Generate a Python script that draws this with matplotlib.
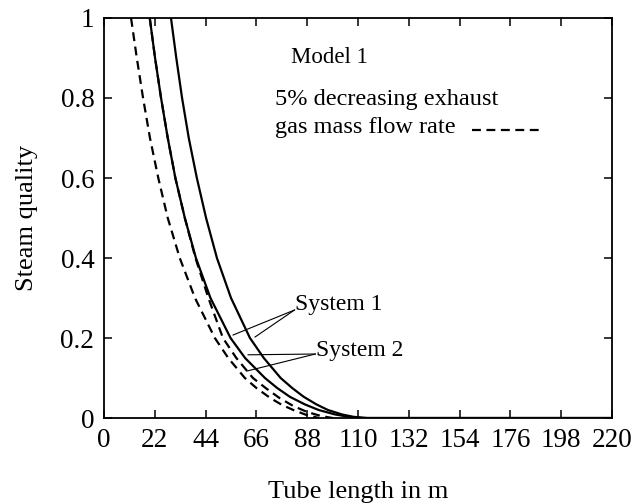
import matplotlib
matplotlib.use("Agg")
import matplotlib.pyplot as plt

plt.rcParams['font.family'] = ['Liberation Serif', 'DejaVu Serif']

# System 1 (solid, right)
s1_x = [29, 31.3, 33.8, 36.7, 40.2, 44.2, 48.9, 55, 63.2, 69.2, 76.5, 81.5, 86.5, 92, 97, 103, 108, 114, 220]
s1_y = [1, 0.9, 0.8, 0.7, 0.6, 0.5, 0.4, 0.3, 0.2, 0.15, 0.1, 0.075, 0.053, 0.034, 0.02, 0.009, 0.003, 0, 0]
# System 2 (solid, middle)
s2_x = [19.8, 22.1, 24.7, 27.6, 30.9, 35, 39.8, 46.1, 54.8, 61.1, 69.7, 75, 80.5, 87, 93, 100, 106, 112, 220]
s2_y = [1, 0.9, 0.8, 0.7, 0.6, 0.5, 0.4, 0.3, 0.2, 0.15, 0.1, 0.075, 0.053, 0.034, 0.02, 0.009, 0.003, 0, 0]
# 5% decreasing exhaust gas mass flow rate (dashed)
d2_x = [19.8, 22.1, 24.7, 27.6, 30.9, 35, 39.6, 45.2, 51.5, 57.3, 64.5, 70, 76, 82, 88, 94, 99]
d2_y = [1, 0.9, 0.8, 0.7, 0.6, 0.5, 0.4, 0.3, 0.2, 0.15, 0.1, 0.075, 0.05, 0.03, 0.015, 0.005, 0]
d1_x = [11.7, 14.2, 16.9, 19.9, 23.5, 27.6, 32.8, 39.4, 48, 53.8, 61, 66, 72, 77, 82, 87.5, 93]
d1_y = [1, 0.9, 0.8, 0.7, 0.6, 0.5, 0.4, 0.3, 0.2, 0.15, 0.1, 0.075, 0.05, 0.033, 0.02, 0.008, 0]

x_ticks = [0, 22, 44, 66, 88, 110, 132, 154, 176, 198, 220]
y_ticks = [0, 0.2, 0.4, 0.6, 0.8, 1]
y_tick_labels = ['0', '0.2', '0.4', '0.6', '0.8', '1']

fig = plt.figure(figsize=(6.39, 5.04), dpi=100)
ax = fig.add_axes([0.1628, 0.1706, 0.7949, 0.7937])

lw = 1.6
dash = (0, (4, 2.5))
ax.plot(s1_x, s1_y, color='black', lw=lw)
ax.plot(s2_x, s2_y, color='black', lw=lw)
ax.plot(d2_x, d2_y, color='black', lw=lw, ls=dash)
ax.plot(d1_x, d1_y, color='black', lw=lw, ls=dash)

ax.set_xlim(0, 220)
ax.set_ylim(0, 1)
ax.set_xticks(x_ticks)
ax.set_xticklabels([str(t) for t in x_ticks])
ax.set_yticks(y_ticks)
ax.set_yticklabels(y_tick_labels)
ax.tick_params(direction='in', length=6, width=1.1, top=True, right=True,
               labelsize=19.5, pad=7)
for sp in ax.spines.values():
    sp.set_linewidth(1.3)

ax.set_xlabel('Tube length in m', fontsize=19, labelpad=20)
ax.set_ylabel('Steam quality', fontsize=19, labelpad=16)

ax.text(81.0, 0.90, 'Model 1', fontsize=16.5, ha='left', va='center')
ax.text(74.0, 0.795, '5% decreasing exhaust', fontsize=17.5, ha='left', va='center')
ax.text(74.0, 0.725, 'gas mass flow rate', fontsize=17.5, ha='left', va='center')
ax.plot([159.4, 189.7], [0.72, 0.72], color='black', lw=lw, ls=dash)

ax.text(82.7, 0.285, 'System 1', fontsize=17, ha='left', va='center')
ax.text(91.8, 0.17, 'System 2', fontsize=17, ha='left', va='center')
thin = 0.8
ax.plot([82.5, 55.9], [0.27, 0.2075], color='black', lw=thin)
ax.plot([82.5, 65.4], [0.27, 0.2025], color='black', lw=thin)
ax.plot([91.5, 62.4], [0.16, 0.158], color='black', lw=thin)
ax.plot([91.5, 61.9], [0.16, 0.1175], color='black', lw=thin)

fig.savefig('out.png', dpi=100)
